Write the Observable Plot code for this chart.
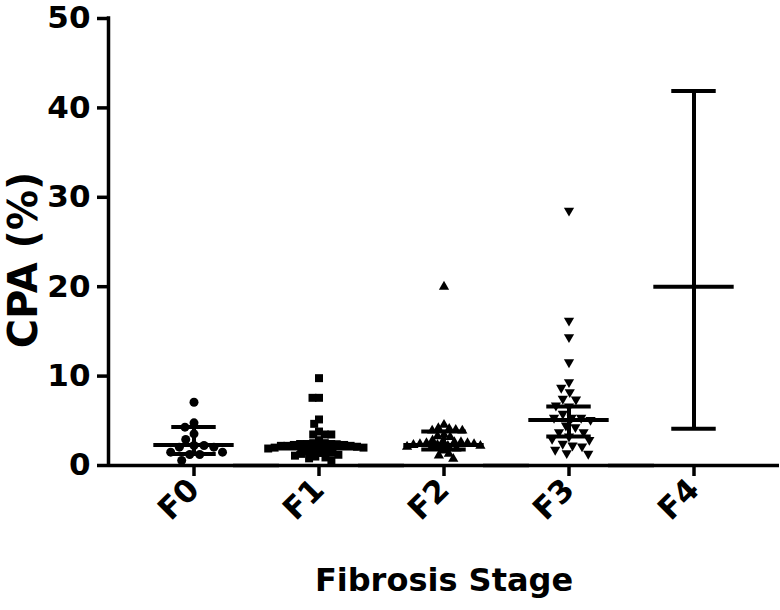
<!DOCTYPE html>
<html>
<head>
<meta charset="utf-8">
<script src="https://cdn.jsdelivr.net/npm/d3@7"></script>
<script src="https://cdn.jsdelivr.net/npm/@observablehq/plot@0.6"></script>
<style>
  html, body { margin: 0; padding: 0; background: #fff; }
  #chart svg { font-family: "DejaVu Sans", sans-serif; }
</style>
</head>
<body>
<div id="chart"></div>
<script>
// ---- data ----
const stages = ["F0", "F1", "F2", "F3", "F4"];
const f0Values = [7.08, 4.77, 4.29, 3.54, 2.91, 2.24, 2.24, 2.05, 2.05, 1.49, 1.49, 1.23, 1.23, 0.56];
const f1Values = [9.77, 7.57, 7.57, 5.15, 4.66, 3.80, 3.47, 3.47, 3.47, 2.83,
  2.5, 2.5, 2.4, 2.4, 2.4, 2.3, 2.3, 2.3, 2.2, 2.2, 2.2, 2.1, 2.1, 2.0, 2.0,
  1.9, 1.8, 1.7, 1.6, 1.5, 1.4, 1.3, 1.2, 1.1, 1.0, 0.9, 0.8, 0.6];
const f2Values = [20.0, 4.55, 4.17, 4.10, 3.99, 3.91, 3.91, 3.43, 3.28, 3.17, 2.8, 2.7, 2.6, 2.6,
  2.5, 2.5, 2.4, 2.4, 2.3, 2.3, 2.2, 2.2, 2.1, 2.0, 1.9, 1.68, 1.3, 1.12, 0.75];
const f3Values = [28.5, 16.2, 14.35, 11.55, 9.32, 8.69, 8.2, 7.46, 7.38, 6.71, 6.6, 5.78, 5.34, 5.34,
  5.34, 5.1, 4.47, 4.29, 3.73, 3.73, 3.24, 2.98, 2.87, 2.43, 2.24, 2.13, 1.76, 1.38, 1.31];
const centerValues = [2.3, 1.9, 2.3, 5.1, 20.0];
const lowValues = [1.3, 1.4, 1.8, 3.25, 4.1];
const highValues = [4.3, 2.6, 3.8, 6.6, 41.9];
const yTicks = [0, 10, 20, 30, 40, 50];
const yLabel = "CPA (%)";
const xLabel = "Fibrosis Stage";

// ---- tables built from the arrays ----
const rows = (stage, vals) => vals.map(v => ({stage, v}));
const bars = stages.map((stage, i) => ({stage, mid: centerValues[i], low: lowValues[i], high: highValues[i]}));

// downward-pointing triangle symbol
const sqrt3 = Math.sqrt(3);
const triangleDown = {
  draw(context, size) {
    const y = Math.sqrt(size / (sqrt3 * 3));
    context.moveTo(0, y * 2);
    context.lineTo(-sqrt3 * y, -y);
    context.lineTo(sqrt3 * y, -y);
    context.closePath();
  }
};

const SW = 4;
const FONT = "'DejaVu Sans', sans-serif";
const dot = (vals, stage, symbol, r, padding) =>
  Plot.dot(rows(stage, vals), Plot.dodgeX({anchor: "middle", padding}, {fx: "stage", y: "v", r, symbol, fill: "black", stroke: "none"}));

const chart = Plot.plot({
  width: 780,
  height: 610,
  marginTop: 18,
  marginBottom: 145,
  marginLeft: 106,
  marginRight: 0,
  style: {fontFamily: FONT, color: "#000", background: "#fff"},
  fx: {domain: stages, paddingInner: -0.366, paddingOuter: 0},
  x: {domain: [-1, 1], axis: null},
  y: {domain: [0, 50]},
  marks: [
    Plot.ruleY([0], {strokeWidth: 3.5}),
    Plot.ruleX([-1], {y1: 0, y2: 50, strokeWidth: 3.5, strokeLinecap: "square", facetAnchor: "left"}),
    Plot.axisY(yTicks, {tickSize: 11, tickPadding: 7, fontSize: 31, fontWeight: "bold", strokeWidth: 3.5, label: null}),
    Plot.axisFx({anchor: "bottom", tickSize: 11, tickPadding: 8, tickRotate: -45, fontSize: 31, fontWeight: "bold", strokeWidth: 3.5, label: null}),
    Plot.text([yLabel], {text: d => d, frameAnchor: "left", textAnchor: "middle", lineAnchor: "middle", dx: -84, dy: 18, rotate: -90, fontSize: 40, fontWeight: "bold", facetAnchor: "left"}),
    Plot.text([xLabel], {text: d => d, fx: () => stages[2], frameAnchor: "bottom", textAnchor: "middle", lineAnchor: "middle", dy: 115, fontSize: 32, fontWeight: "bold"}),
    dot(f0Values, "F0", "circle", 4.5, 1),
    dot(f1Values, "F1", "square", 4.5, -2.5),
    dot(f2Values, "F2", "triangle", 3.8, -1),
    dot(f3Values, "F3", triangleDown, 3.8, 2),
    Plot.ruleX(bars, {fx: "stage", x: 0, y1: "low", y2: "high", strokeWidth: SW}),
    Plot.ruleY(bars, {fx: "stage", y: "mid", x1: -0.47, x2: 0.47, strokeWidth: SW}),
    Plot.ruleY(bars, {fx: "stage", y: "low", x1: -0.26, x2: 0.26, strokeWidth: SW}),
    Plot.ruleY(bars, {fx: "stage", y: "high", x1: -0.26, x2: 0.26, strokeWidth: SW})
  ]
});
document.getElementById("chart").appendChild(chart);
</script>
</body>
</html>
